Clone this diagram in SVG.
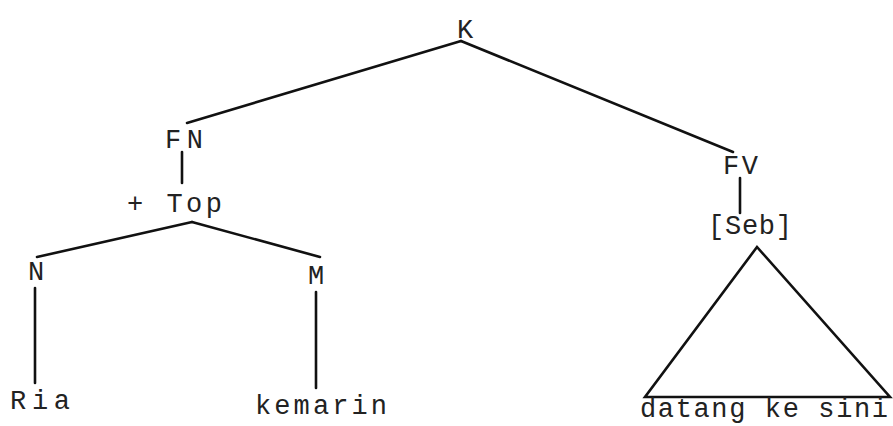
<svg xmlns="http://www.w3.org/2000/svg" width="893" height="426" viewBox="0 0 893 426">
<style>
text{font-family:"Liberation Mono","DejaVu Sans Mono",monospace;font-size:27px;fill:#222}
.c{text-anchor:middle}
line,polygon{stroke:#111;stroke-width:2.6;fill:none;stroke-linecap:round}
</style>
<rect width="893" height="426" fill="#fff"/>
<g id="connectors">
<line x1="461" y1="41" x2="187" y2="123"/>
<line x1="461" y1="41" x2="733" y2="152"/>
<line x1="182" y1="152" x2="182" y2="183"/>
<line x1="192" y1="222" x2="37" y2="257"/>
<line x1="192" y1="222" x2="320" y2="257"/>
<line x1="35" y1="288" x2="35" y2="383"/>
<line x1="316" y1="292" x2="316" y2="388"/>
<line x1="740" y1="178" x2="740" y2="213"/>
</g>
<g id="K"><text class="c" x="465" y="38">K</text></g>
<g id="FN"><text x="165" y="148" textLength="38" lengthAdjust="spacing">FN</text></g>
<g id="Top"><text x="127" y="212" textLength="95" lengthAdjust="spacing">+ Top</text></g>
<g id="N"><text class="c" x="36" y="280">N</text></g>
<g id="M"><text class="c" x="316" y="284">M</text></g>
<g id="Ria"><text x="10" y="409" textLength="60" lengthAdjust="spacing">Ria</text></g>
<g id="kemarin"><text x="255" y="414" textLength="132" lengthAdjust="spacing">kemarin</text></g>
<g id="FV"><text x="723" y="174" textLength="35" lengthAdjust="spacing">FV</text></g>
<g id="Seb"><text x="708" y="234" textLength="84" lengthAdjust="spacing">[Seb]</text></g>
<g id="triangle"><polygon points="757,247 645,397 890,397" stroke-linejoin="miter"/></g>
<g id="datang"><text x="640" y="417" font-size="24" textLength="248" lengthAdjust="spacing">datang ke sini</text></g>
</svg>
